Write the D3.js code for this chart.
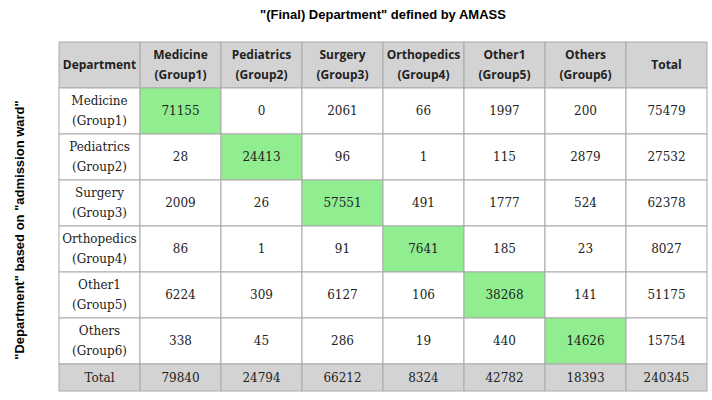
<!DOCTYPE html><html><head><meta charset="utf-8"><script src="https://cdn.jsdelivr.net/npm/d3@7"></script>
<style>body{margin:0;background:#fff}</style></head><body><svg id="c" width="712" height="400"></svg>
<script>
const colHeaders=["Department","Medicine\n(Group1)","Pediatrics\n(Group2)","Surgery\n(Group3)","Orthopedics\n(Group4)","Other1\n(Group5)","Others\n(Group6)","Total"];
const rowLabels=["Medicine\n(Group1)","Pediatrics\n(Group2)","Surgery\n(Group3)","Orthopedics\n(Group4)","Other1\n(Group5)","Others\n(Group6)","Total"];
const values=[
[71155,0,2061,66,1997,200,75479],
[28,24413,96,1,115,2879,27532],
[2009,26,57551,491,1777,524,62378],
[86,1,91,7641,185,23,8027],
[6224,309,6127,106,38268,141,51175],
[338,45,286,19,440,14626,15754],
[79840,24794,66212,8324,42782,18393,240345]];
const svg=d3.select("#c");
const x=d3.scaleLinear().domain([0,8]).range([59,707]);
const rowY=[42,88,134,180,226,272,318,364,391];
const serif="'DejaVu Serif', serif", sans="'Open Sans', Arial, sans-serif";
svg.append("text").attr("x",383).attr("y",19).attr("text-anchor","middle").attr("font-family","Liberation Sans, Arial").attr("font-weight","bold").attr("font-size",13).text('"(Final) Department" defined by AMASS');
svg.append("text").attr("transform","translate(24,230) rotate(-90)").attr("text-anchor","middle").attr("font-family","Liberation Sans, Arial").attr("font-weight","bold").attr("font-size",13).text('"Department" based on "admission ward"');
function cell(c,r,fill,lines,font,bold,size){
  const x0=x(c),x1=x(c+1),y0=rowY[r],y1=rowY[r+1];
  svg.append("rect").attr("x",x0).attr("y",y0).attr("width",x1-x0).attr("height",y1-y0).attr("fill",fill).attr("stroke","#aaa").attr("stroke-width",1);
  const n=lines.length,lh=size*1.65,cy=(y0+y1)/2;
  lines.forEach((t,i)=>svg.append("text").attr("x",(x0+x1)/2).attr("y",cy+(i-(n-1)/2)*lh).attr("dy","0.36em").attr("text-anchor","middle").attr("font-family",font).attr("font-weight",bold?"bold":"normal").attr("font-size",size).attr("fill","#222").text(t));
}
colHeaders.forEach((h,c)=>cell(c,0,"#d3d3d3",h.split("\n"),sans,true,12));
rowLabels.forEach((lab,r)=>{
  const tot=r===6;
  cell(0,r+1,tot?"#d3d3d3":"#fff",lab.split("\n"),serif,false,12);
  values[r].forEach((v,j)=>cell(j+1,r+1,tot?"#d3d3d3":(j===r?"#90ee90":"#fff"),[String(v)],serif,false,12));
});
</script></body></html>
